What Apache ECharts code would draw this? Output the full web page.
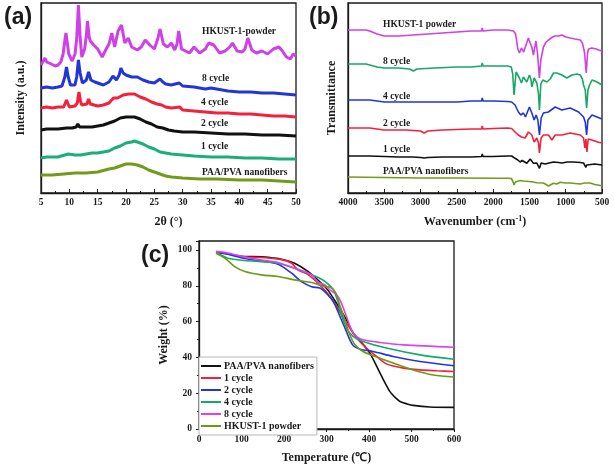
<!DOCTYPE html>
<html><head><meta charset="utf-8">
<script src="https://cdn.jsdelivr.net/npm/echarts/dist/echarts.min.js"></script>
<style>html,body{margin:0;padding:0;background:#fff}#c{width:614px;height:467px}</style>
</head><body><div id="c"></div>
<script>
// ---------- (a) XRD: [2theta, intensity a.u.] ----------
const xrdPowder = [[5,134],[5.4,138],[5.7,141],[6.0,137],[6.3,138],[6.8,135],[7.5,133],[8.0,134],[8.5,137],[8.9,145],[9.2,158],[9.4,166],[9.6,158],[9.9,145],[10.5,138],[11.0,145],[11.3,160],[11.6,194],[11.9,162],[12.2,142],[12.7,150],[13.0,163],[13.2,178],[13.5,162],[13.7,158],[14.3,154],[15,150],[15.8,142],[16.5,150],[17.0,155],[17.5,166],[18.0,152],[18.6,168],[19.2,174],[19.8,156],[20.4,161],[21,152],[22,149],[22.7,152],[23.4,159],[24.2,154],[25,150],[25.6,160],[26.0,170],[26.6,155],[27.3,152],[28,156],[28.6,149],[29.0,155],[29.3,168],[29.8,150],[30.5,148],[31.2,146],[32,152],[33,146],[34,150],[34.6,156],[35.5,154],[36.5,146],[37.5,148],[38.3,152],[38.8,156],[39.6,148],[40.5,147],[41.0,150],[41.5,161],[42.2,149],[43,146],[44,148],[45,145],[46,150],[47,152],[47.6,148],[48.3,142],[49,140],[49.5,145],[50,143]];
const xrd8 = [[5,111],[6,112],[7,111],[8,112],[8.7,113],[9.2,122],[9.5,132],[9.8,122],[10.2,114],[11,114],[11.3,122],[11.6,139],[11.9,126],[12.3,116],[13.0,119],[13.4,127],[13.8,119],[14.5,117],[15,116],[16,114],[17,117],[17.7,123],[18.3,119],[18.8,124],[19.1,131],[19.5,126],[20,124],[21,122],[22,122],[23,119],[24,117],[25,116],[26,120],[26.5,117],[27,115],[28,114],[29.4,116],[30,113],[32,112],[34,110],[35,111],[36,110],[38,108],[40,107],[42,107],[44,106],[46,106],[48,105],[50,104]];
const xrd4 = [[5,91],[6,92],[7,91],[8,92],[9,92],[9.5,99],[10,92],[11,93],[11.4,96],[11.7,107],[12.0,97],[12.2,94],[13.1,95],[13.4,100],[13.7,95],[14,94],[15,93],[16,94],[17,96],[17.8,101],[18.5,101],[19.5,104],[20.5,105],[21.5,105],[22.5,102],[23.5,100],[24.5,97],[25.5,95],[26.3,94],[27,92],[28,91],[29.5,92],[30,89],[32,88],[34,87],[36,86],[38,86],[40,85],[42,85],[44,84],[46,83],[48,83],[50,82]];
const xrd2 = [[5,69],[6,70],[8,70],[9.5,71],[10.5,71],[11.2,72],[11.5,75],[11.8,72],[12,71],[13,72],[14,72],[15,73],[16,74],[17,76],[18,78],[19,81],[20,82],[21,82],[21.5,82],[22.5,80],[23.5,77],[24.5,75],[25.5,72],[26.5,71],[27.5,69],[28.5,68],[30,67],[32,67],[35,66],[38,65],[41,65],[44,64],[47,64],[50,63]];
const xrd1 = [[5,41],[6,42],[8,42],[9.8,45],[11,44],[12,44],[13,45],[14,46],[15,46],[16,47],[17,48],[18,51],[19,53],[20,56],[21,57],[21.5,58],[22,57],[23,55],[24,52],[25,50],[26,47],[27,46],[28,45],[30,44],[32,43],[35,42],[38,42],[41,41],[44,41],[47,40],[50,40]];
const xrd0 = [[5,24],[7,24],[9,25],[11,26],[13,26],[15,27],[17,30],[18,31],[19,33],[20,35],[21,35],[22,34],[23,32],[24,29],[25,27],[26,25],[27,23],[28,22],[30,21],[33,20],[36,20],[40,19],[44,19],[47,18],[50,17]];

// ---------- (b) FTIR: [wavenumber, transmittance a.u.] ----------
const irPowder = [[4000,169],[3750,169],[3700,168],[3600,165],[3500,163],[3300,163],[3100,164],[2900,165],[2700,166],[2500,167],[2300,168],[2160,168],[2150,171],[2140,168],[2000,169],[1800,169],[1720,168],[1690,165],[1660,150],[1638,146],[1610,151],[1580,147],[1559,147],[1514,161],[1490,156],[1467,152],[1445,144],[1430,150],[1410,158],[1389,146],[1362,121],[1343,139],[1307,152],[1270,157],[1238,159],[1180,162],[1145,163],[1120,161],[1099,163],[1053,164],[1000,162],[938,161],[870,160],[800,159],[770,156],[754,151],[740,146],[731,145],[717,126],[699,146],[685,150],[671,149],[640,151],[616,151],[580,150],[547,149],[500,148]];
const ir8 = [[4000,135],[3750,135],[3700,134],[3600,132],[3500,131],[3300,131],[3150,130],[3100,128],[3050,130],[2800,131],[2500,132],[2300,132],[2160,133],[2150,136],[2140,133],[2000,133],[1800,133],[1750,132],[1730,125],[1712,104],[1695,118],[1684,127],[1660,124],[1638,121],[1610,116],[1583,122],[1560,120],[1536,117],[1500,124],[1480,120],[1467,112],[1435,121],[1398,116],[1375,105],[1362,89],[1343,115],[1316,119],[1260,117],[1214,120],[1190,119],[1168,126],[1122,126],[1053,124],[984,121],[915,124],[846,125],[800,124],[770,120],[754,114],[731,109],[712,91],[694,109],[671,114],[638,119],[600,118],[569,117],[500,114]];
const ir4 = [[4000,99],[3700,99],[3600,98],[3500,97],[3000,97],[2500,97],[2300,98],[2160,98],[2150,101],[2140,98],[2000,98],[1800,97.5],[1745,97],[1698,94],[1652,87],[1619,84],[1583,86],[1555,82],[1500,92],[1467,86],[1435,79],[1408,84],[1384,79],[1362,64],[1338,81],[1307,86],[1238,87],[1145,92],[1053,89],[938,91],[823,87],[754,82],[731,77],[712,64],[694,79],[638,84],[569,82],[500,80]];
const ir2 = [[4000,71],[3700,71],[3600,70],[3500,69],[3200,69],[3000,68],[2950,66],[2900,68],[2700,69],[2500,69.5],[2300,70],[2160,70],[2150,73],[2140,70],[2000,70.5],[1800,71],[1745,70.5],[1698,67],[1652,64],[1610,62],[1559,61],[1514,67],[1490,66],[1467,64],[1435,57],[1398,61],[1375,56],[1362,46],[1345,58],[1338,61],[1307,64],[1238,64],[1191,59],[1145,64],[1053,64],[938,66],[800,64],[754,61],[736,51],[722,60],[708,47],[690,60],[638,59],[560,57],[500,56]];
const ir1 = [[4000,43],[3700,43],[3500,42.5],[3300,42],[3100,42],[3000,41.5],[2950,41],[2900,41.5],[2700,42],[2500,42],[2300,42],[2160,42.5],[2150,45],[2140,42.5],[2000,42.5],[1800,43],[1745,43],[1698,40.7],[1660,39],[1629,37],[1600,38.5],[1583,39],[1536,35.7],[1490,40],[1465,38],[1445,35.7],[1420,37],[1398,36],[1362,30.7],[1338,36],[1284,35],[1230,36],[1168,37],[1100,36.5],[1053,36],[980,37],[892,37],[800,36.5],[754,36],[735,34],[722,31.7],[710,34],[699,36],[600,35],[500,34]];
const ir0 = [[4000,22],[3500,21.5],[3000,21],[2500,21],[2000,20.8],[1800,20.7],[1750,20.5],[1730,18],[1712,14],[1695,17],[1684,19],[1630,18.5],[1583,18],[1500,17.5],[1450,17],[1398,16.3],[1307,16],[1270,14.5],[1238,13],[1200,14.5],[1168,15.7],[1122,15],[1076,16.7],[1000,16],[938,16],[870,15.5],[800,15],[740,16],[662,16],[600,14.5],[500,13.3]];

// ---------- (c) TGA: [temperature °C, weight %] ----------
const tgaPAA = [[40,98.5],[60,98],[80,97.3],[108,96.3],[147,96.2],[175,95.5],[194,94.8],[225,92.6],[257,87.9],[288,81.4],[305,77],[324,70],[347,61],[363,53.5],[380,49],[402,42.4],[426,31.2],[449,21],[462,17.5],[473,15.4],[490,14],[504,13.2],[543,12.3],[600,12.1]];
const tga1 = [[40,98.9],[60,98.3],[80,97.2],[108,96],[147,95.8],[194,94.6],[218,92.6],[233,88.8],[257,86.2],[288,79.5],[305,75],[324,68.4],[347,59.1],[371,50.8],[394,45.2],[418,40.5],[441,36.4],[460,35],[481,34],[520,33],[560,32.5],[600,32.1]];
const tga2 = [[40,98.9],[68,97.6],[108,95.2],[147,93.8],[186,92],[218,87],[241,82.3],[265,79.5],[284,78.7],[296,76.7],[316,71.2],[335,61],[347,54.4],[355,49.8],[363,46.5],[379,44.6],[410,43.3],[457,40.5],[520,37.7],[600,35.3]];
const tga4 = [[40,98.7],[68,95.4],[108,94.1],[147,93.5],[186,92.6],[225,89.8],[265,86.1],[284,84.2],[300,81.8],[316,77.7],[328,70.3],[335,63.7],[347,56.3],[363,51.6],[386,48.9],[441,45.2],[520,41.4],[600,39]];
const tga8 = [[40,99.2],[68,98.3],[108,96],[147,94.4],[186,93],[225,89.8],[265,86.1],[280,82],[296,80.5],[308,77.7],[324,74.9],[335,70.3],[347,62.8],[359,55.4],[371,51.6],[386,49.8],[426,48.3],[481,47],[600,45.7]];
const tgaPowder = [[40,98.2],[61,95.4],[84,90.7],[108,88],[147,86.1],[186,85.2],[225,83.3],[265,81.8],[296,79.6],[308,79.3],[320,76.7],[331,69.3],[343,61],[355,52.6],[367,47],[386,43.3],[418,40.2],[457,36.8],[504,33],[551,30.2],[600,29]];

const xrdTicks = {min:5, max:50, interval:5};
const irTicks = {min:500, max:4000, interval:500};
const tgaXTicks = {min:0, max:600, interval:100};
const tgaYTicks = {min:0, max:105, interval:20};
const tgaNames = ['PAA/PVA nanofibers','1 cycle','2 cycle','4 cycle','8 cycle','HKUST-1 powder'];

const SERIF = '"Liberation Serif","Times New Roman",serif';
const INK = '#1a1a1a';
const C = {mag:'#d040e8', blue:'#2236d8', red:'#f5203c', black:'#111111', teal:'#1aae78', olive:'#749a1a', green:'#16a864'};

const nameStyle = {fontFamily:SERIF, fontWeight:'bold', fontSize:12, color:INK};
const labStyle = {fontFamily:SERIF, fontWeight:'bold', fontSize:9.5, color:INK};
const axLine = {show:true, lineStyle:{color:INK, width:1.3}};
const plain = v => String(v);

function xAx(grid, t, extra){
  return Object.assign({gridIndex:grid, type:'value', min:t.min, max:t.max, interval:t.interval,
    axisLine:axLine, splitLine:{show:false},
    axisTick:{show:true, inside:true, length:4, lineStyle:{color:INK, width:1}},
    minorTick:{show:true, splitNumber:2, length:2, lineStyle:{color:INK, width:1}},
    axisLabel:Object.assign({margin:5, formatter:plain}, labStyle), nameLocation:'middle', nameTextStyle:nameStyle}, extra);
}
function hiddenY(grid, name, gap){
  return {gridIndex:grid, type:'value', min:6, max:196, axisLine:axLine, axisTick:{show:false},
    axisLabel:{show:false}, splitLine:{show:false}, name:name, nameLocation:'middle', nameGap:gap, nameTextStyle:nameStyle};
}
function ln(name, xi, data, color, w, smooth){
  return {type:'line', name:name, xAxisIndex:xi, yAxisIndex:xi, data:data, symbol:'none', smooth:smooth||false,
    lineStyle:{color:color, width:w}, itemStyle:{color:color}, silent:true, animation:false, z:2};
}
function txt(x, y, s, size, fam){
  return {type:'text', x:x, y:y, z:10, style:{text:s, font:'bold '+(size||9.5)+'px '+(fam||SERIF), fill:INK, verticalAlign:'middle'}};
}

const option = {
  animation:false,
  grid:[
    {left:41, top:3, width:255, height:190, show:true, borderColor:INK, borderWidth:1.3},
    {left:348, top:3, width:254, height:190, show:true, borderColor:INK, borderWidth:1.3},
    {left:199, top:241, width:255, height:188, show:true, borderColor:INK, borderWidth:1.3}
  ],
  xAxis:[
    xAx(0, xrdTicks, {name:'2θ (°)', nameGap:23}),
    xAx(1, irTicks, {inverse:true, name:'Wavenumber (cm{sup|-1})', nameGap:22,
      nameTextStyle:Object.assign({rich:{sup:{fontFamily:SERIF, fontWeight:'bold', fontSize:8, verticalAlign:'top', padding:[0,0,6,0]}}}, nameStyle)}),
    xAx(2, tgaXTicks, {name:'Temperature (℃)', nameGap:23,
      axisTick:{show:true, inside:false, length:3, lineStyle:{color:INK, width:1}},
      axisLabel:Object.assign({margin:6, formatter:plain}, labStyle)})
  ],
  yAxis:[
    hiddenY(0, 'Intensity (a.u.)', 14),
    hiddenY(1, 'Transmittance', 10),
    {gridIndex:2, type:'value', min:tgaYTicks.min, max:tgaYTicks.max, interval:tgaYTicks.interval,
      axisLine:axLine, splitLine:{show:false},
      axisTick:{show:true, inside:false, length:3, lineStyle:{color:INK, width:1}},
      minorTick:{show:true, splitNumber:2, length:2, lineStyle:{color:INK, width:1}},
      axisLabel:Object.assign({margin:7, formatter:v => (v % 20 === 0 ? String(v) : '')}, labStyle),
      name:'Weight (%)', nameLocation:'middle', nameGap:29, nameTextStyle:nameStyle}
  ],
  legend:{
    data:tgaNames, orient:'vertical', left:199, top:357, itemGap:0, itemWidth:20, itemHeight:2,
    icon:'rect', selectedMode:false, padding:[3,3,3,2], backgroundColor:'#fff', borderColor:'#b8b8b8', borderWidth:1,
    textStyle:{fontFamily:SERIF, fontWeight:'bold', fontSize:10, color:INK, lineHeight:12, padding:[0,0,0,-2]}
  },
  series:[
    ln('a-powder',0,xrdPowder,C.mag,3), ln('a-8',0,xrd8,C.blue,3), ln('a-4',0,xrd4,C.red,3),
    ln('a-2',0,xrd2,C.black,3), ln('a-1',0,xrd1,C.teal,3), ln('a-0',0,xrd0,C.olive,3),
    ln('b-powder',1,irPowder,C.mag,1.6), ln('b-8',1,ir8,C.green,1.6), ln('b-4',1,ir4,C.blue,1.6),
    ln('b-2',1,ir2,C.red,1.6), ln('b-1',1,ir1,C.black,1.6), ln('b-0',1,ir0,C.olive,1.6),
    ln(tgaNames[0],2,tgaPAA,C.black,1.6,0.3), ln(tgaNames[1],2,tga1,C.red,1.6,0.3),
    ln(tgaNames[2],2,tga2,C.blue,1.6,0.3), ln(tgaNames[3],2,tga4,C.green,1.6,0.3),
    ln(tgaNames[4],2,tga8,'#e040f0',1.6,0.3), ln(tgaNames[5],2,tgaPowder,'#6b9a14',1.6,0.3)
  ],
  graphic:[
    txt(4,18,'(a)',23,'"Liberation Sans",Arial,sans-serif'),
    txt(309,18,'(b)',23,'"Liberation Sans",Arial,sans-serif'),
    txt(141,256,'(c)',23,'"Liberation Sans",Arial,sans-serif'),
    txt(202,32,'HKUST-1-powder'), txt(202,79,'8 cycle'), txt(201,103,'4 cycle'),
    txt(201,124,'2 cycle'), txt(201,147,'1 cycle'), txt(202,173,'PAA/PVA nanofibers'),
    txt(383,25,'HKUST-1 powder'), txt(383,62,'8 cycle'), txt(383,97,'4 cycle'),
    txt(383,124,'2 cycle'), txt(383,150,'1 cycle'), txt(383,172,'PAA/PVA nanofibers')
  ]
};
const chart = echarts.init(document.getElementById('c'));
chart.setOption(option);
</script></body></html>
